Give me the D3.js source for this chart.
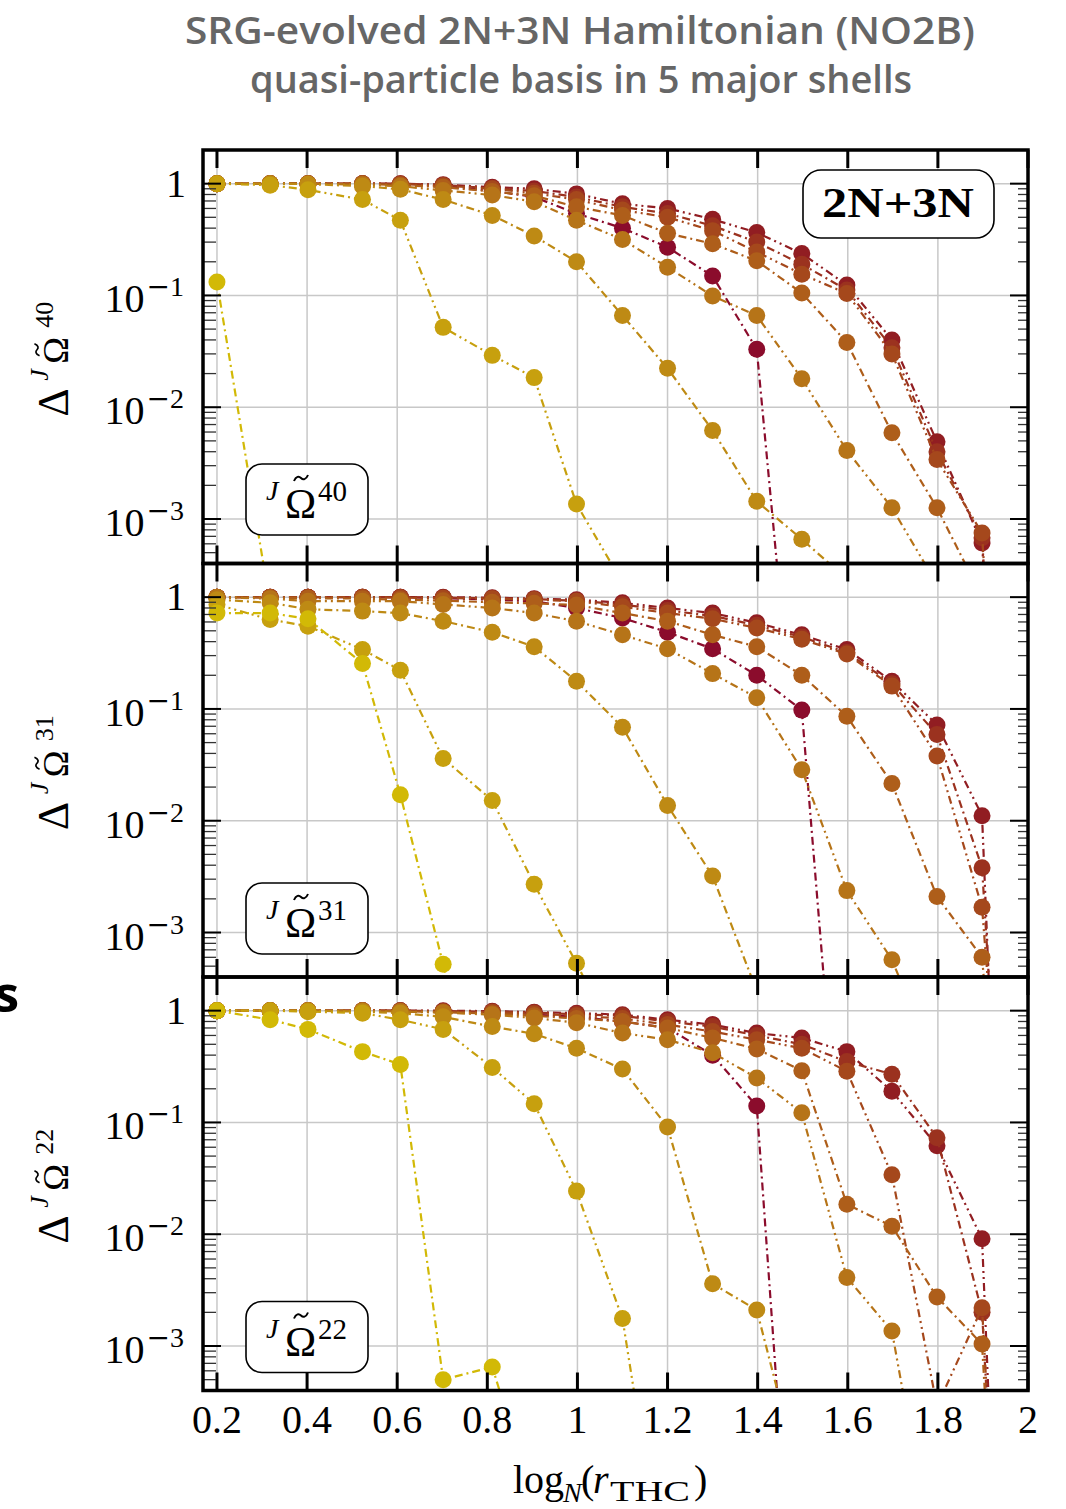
<!DOCTYPE html>
<html>
<head>
<meta charset="utf-8">
<script src="https://cdn.jsdelivr.net/npm/d3@7"></script>
<style>
  body { margin: 0; background: #fff; }
  svg { display: block; }
</style>
</head>
<body>
<script>
const width = 1066;
const height = 1509;

// log_N(r_THC) positions of the decompositions
const xValues = [0.2, 0.318, 0.402, 0.523, 0.607, 0.702, 0.811, 0.904, 0.998, 1.1,
  1.2, 1.3, 1.398, 1.498, 1.598, 1.698, 1.798, 1.898, 2.0];

const seriesColors = ["#8b0c2c", "#911d22", "#9b321f", "#a5481c", "#ae5e1a",
  "#b67418", "#be8a14", "#c7a00e", "#d2b906"];

const panelNames = ["40", "31", "22"];

// Delta of J Omega~40
const omega40 = [
  [1, 1, 1, 1, 0.99, 0.95, 0.86, 0.76, 0.54, 0.40, 0.27, 0.149, 0.033, 1.7e-6],
  [1, 1, 1, 1, 1, 0.98, 0.93, 0.90, 0.81, 0.66, 0.60, 0.48, 0.365, 0.237, 0.124, 0.040, 0.0049, 6.1e-4, 1e-10],
  [1, 1, 1, 1, 1, 0.97, 0.91, 0.86, 0.76, 0.62, 0.54, 0.42, 0.30, 0.19, 0.112, 0.034, 0.0040, 6.8e-4, 1e-10],
  [1, 1, 1, 1, 0.99, 0.96, 0.90, 0.82, 0.72, 0.58, 0.50, 0.38, 0.245, 0.155, 0.104, 0.030, 0.0034, 7.5e-4, 1e-10],
  [1, 1, 1, 1, 0.97, 0.93, 0.85, 0.78, 0.62, 0.52, 0.36, 0.29, 0.204, 0.105, 0.038, 0.0059, 0.00126, 2e-4],
  [1, 1, 1, 0.98, 0.95, 0.87, 0.79, 0.69, 0.47, 0.316, 0.179, 0.099, 0.066, 0.018, 0.0041, 0.00126, 2.6e-4],
  [1, 1, 0.99, 0.95, 0.89, 0.72, 0.52, 0.34, 0.20, 0.066, 0.0223, 0.0062, 0.00144, 0.00066, 2.9e-4],
  [1, 0.97, 0.88, 0.72, 0.47, 0.0518, 0.0291, 0.0184, 0.00136, 2.7e-4],
  [0.132, 1.7e-4]
];

// Delta of J Omega~31
const omega31 = [
  [1, 1, 1, 1, 1, 0.98, 0.95, 0.92, 0.80, 0.65, 0.486, 0.345, 0.2, 0.0976, 1.2e-6],
  [1, 1, 1, 1, 1, 1, 0.99, 0.97, 0.95, 0.89, 0.80, 0.72, 0.59, 0.46, 0.34, 0.177, 0.072, 0.0111, 1e-12],
  [1, 1, 1, 1, 1, 0.99, 0.98, 0.96, 0.93, 0.86, 0.76, 0.68, 0.56, 0.44, 0.32, 0.168, 0.059, 0.0038, 1e-9],
  [1, 1, 1, 1, 0.99, 0.98, 0.97, 0.95, 0.92, 0.82, 0.72, 0.64, 0.53, 0.42, 0.31, 0.16, 0.038, 0.00168, 1e-8],
  [1, 0.99, 0.98, 0.97, 0.95, 0.93, 0.90, 0.88, 0.85, 0.72, 0.61, 0.46, 0.36, 0.2, 0.086, 0.0215, 0.0021, 6.0e-4, 1e-8],
  [1, 0.97, 0.92, 0.92, 0.92, 0.86, 0.80, 0.72, 0.61, 0.46, 0.345, 0.207, 0.126, 0.0286, 0.00237, 5.7e-4, 6e-5],
  [0.95, 0.89, 0.78, 0.75, 0.72, 0.61, 0.486, 0.36, 0.177, 0.0686, 0.0137, 0.0032, 3e-4],
  [0.86, 0.63, 0.55, 0.34, 0.222, 0.036, 0.0152, 0.0027, 5.3e-4, 8e-5],
  [0.72, 0.72, 0.64, 0.255, 0.0171, 5.2e-4, 1e-5]
];

// Delta of J Omega~22
const omega22 = [
  [1, 1, 1, 1, 1, 0.98, 0.95, 0.92, 0.88, 0.80, 0.70, 0.40, 0.14, 3e-7],
  [1, 1, 1, 1, 1, 1, 0.99, 0.97, 0.95, 0.92, 0.83, 0.75, 0.63, 0.57, 0.43, 0.19, 0.062, 0.0091, 1e-12],
  [1, 1, 1, 1, 1, 0.99, 0.98, 0.96, 0.93, 0.90, 0.80, 0.72, 0.60, 0.50, 0.35, 0.27, 0.073, 0.0020, 1e-10],
  [1, 1, 1, 1, 1, 0.98, 0.97, 0.94, 0.90, 0.85, 0.75, 0.65, 0.55, 0.46, 0.287, 0.034, 2.9e-4, 0.0022, 1e-10],
  [1, 1, 1, 1, 0.99, 0.97, 0.94, 0.90, 0.85, 0.80, 0.70, 0.57, 0.455, 0.29, 0.0185, 0.0118, 0.00274, 0.00104, 1e-10],
  [1, 1, 1, 1, 0.98, 0.96, 0.92, 0.86, 0.78, 0.63, 0.55, 0.42, 0.25, 0.122, 0.0041, 0.00136, 8e-6],
  [1, 1, 1, 0.98, 0.95, 0.88, 0.72, 0.62, 0.46, 0.30, 0.091, 0.0036, 0.0021, 5.7e-5],
  [1, 1, 0.98, 0.95, 0.83, 0.68, 0.31, 0.147, 0.0243, 0.00176, 5e-6],
  [1, 0.83, 0.68, 0.43, 0.33, 5.0e-4, 6.5e-4, 4e-5]
];

const panels = [omega40, omega31, omega22];

const xTickValues = [0.2, 0.4, 0.6, 0.8, 1.0, 1.2, 1.4, 1.6, 1.8, 2.0];
const xTickLabels = ["0.2", "0.4", "0.6", "0.8", "1", "1.2", "1.4", "1.6", "1.8", "2"];
const yTickValues = [1, 0.1, 0.01, 0.001];
const yTickExponents = ["", "1", "2", "3"];

const serif = "'Liberation Serif', 'DejaVu Serif', serif";
const wideSerif = "'DejaVu Serif', serif";
const dashDot = "8,4,2,4";
const dashDotDot = "8,4,2,4,2,4";
const tildePath = "M-7,3 C-5,-2 -2,-2 0,0 S5,2 7,-3";

const svg = d3.select("body").append("svg")
  .attr("width", width)
  .attr("height", height);

// title
const title = svg.append("g")
  .attr("fill", "#666")
  .attr("font-family", "'Open Sans', Lato, sans-serif")
  .attr("font-weight", 600)
  .attr("font-size", 38)
  .attr("text-anchor", "middle");
title.append("text")
  .attr("x", 580).attr("y", 44)
  .attr("textLength", 790).attr("lengthAdjust", "spacingAndGlyphs")
  .text("SRG-evolved 2N+3N Hamiltonian (NO2B)");
title.append("text")
  .attr("x", 581).attr("y", 93)
  .attr("textLength", 662).attr("lengthAdjust", "spacingAndGlyphs")
  .text("quasi-particle basis in 5 major shells");

// cut-off word at the left edge of the slide
svg.append("text")
  .attr("x", 19).attr("y", 1012)
  .attr("text-anchor", "end")
  .attr("font-family", "'Open Sans', sans-serif")
  .attr("font-weight", 700)
  .attr("font-size", 50)
  .text("s");

const left = 203;
const right = 1028;
const panelTop = 150;
const panelHeight = 413.5;

const x = d3.scaleLinear().domain([0.169, 2.0]).range([left, right]);

const boxOffsets = [314, 319.5, 324.5];

const minorTicks = [];
[-4, -3, -2, -1, 0].forEach((e) => {
  for (let k = 2; k <= 9; k++) {
    const v = k * Math.pow(10, e);
    if (v >= 4e-4 && v < 2) minorTicks.push(v);
  }
});

const line = (y) => d3.line()
  .x((d) => x(d[0]))
  .y((d) => y(d[1]));

const piece = (g, px, py, size, txt, italic) => g.append("text")
  .attr("x", px).attr("y", py)
  .attr("font-family", serif)
  .attr("font-size", size)
  .attr("font-style", italic ? "italic" : null)
  .text(txt);

panels.forEach((panel, i) => {
  const top = panelTop + i * panelHeight;
  const bottom = top + panelHeight;
  const y = d3.scaleLog().domain([4e-4, 2]).range([bottom, top]);
  const g = svg.append("g");

  g.append("clipPath").attr("id", "clip" + i)
    .append("rect")
    .attr("x", left).attr("y", top)
    .attr("width", right - left).attr("height", panelHeight);

  // grid
  const grid = g.append("g").attr("stroke", "#c8c8c8").attr("stroke-width", 1.5);
  grid.selectAll("line.gx")
    .data(xTickValues.slice(0, -1))
    .enter().append("line")
    .attr("x1", (d) => x(d)).attr("x2", (d) => x(d))
    .attr("y1", top).attr("y2", bottom);
  grid.selectAll("line.gy")
    .data(yTickValues)
    .enter().append("line")
    .attr("x1", left).attr("x2", right)
    .attr("y1", (d) => y(d)).attr("y2", (d) => y(d));

  // series, darkest first so the lighter ones sit on top
  const plot = g.append("g").attr("clip-path", `url(#clip${i})`);
  panel.forEach((values, s) => {
    const pts = values.map((v, j) => [xValues[j], v]);
    const sg = plot.append("g");
    sg.append("path")
      .datum(pts)
      .attr("d", line(y))
      .attr("fill", "none")
      .attr("stroke", seriesColors[s])
      .attr("stroke-width", 2.2)
      .attr("stroke-dasharray", s % 2 === 0 ? dashDot : dashDotDot);
    sg.selectAll("circle")
      .data(pts.filter((d) => d[1] >= 2e-4))
      .enter().append("circle")
      .attr("cx", (d) => x(d[0]))
      .attr("cy", (d) => y(d[1]))
      .attr("r", 8.5)
      .attr("fill", seriesColors[s]);
  });

  // ticks
  const ticks = g.append("g");
  ticks.selectAll("line.xt")
    .data(xTickValues)
    .enter().append("line")
    .attr("x1", (d) => x(d)).attr("x2", (d) => x(d))
    .attr("y1", top).attr("y2", top + 18)
    .attr("stroke", "#000").attr("stroke-width", 3);
  ticks.selectAll("line.xb")
    .data(xTickValues)
    .enter().append("line")
    .attr("x1", (d) => x(d)).attr("x2", (d) => x(d))
    .attr("y1", bottom - 18).attr("y2", bottom)
    .attr("stroke", "#000").attr("stroke-width", 3);
  [[left, 1], [right, -1]].forEach(([x0, dir]) => {
    ticks.append("g").selectAll("line")
      .data(yTickValues)
      .enter().append("line")
      .attr("x1", x0).attr("x2", x0 + dir * 18)
      .attr("y1", (d) => y(d)).attr("y2", (d) => y(d))
      .attr("stroke", "#000").attr("stroke-width", 2);
    ticks.append("g").selectAll("line")
      .data(minorTicks)
      .enter().append("line")
      .attr("x1", x0).attr("x2", x0 + dir * (dir > 0 ? 13 : 10))
      .attr("y1", (d) => y(d)).attr("y2", (d) => y(d))
      .attr("stroke", "#333").attr("stroke-width", 1.3);
  });

  // frame
  g.append("rect")
    .attr("x", left).attr("y", top)
    .attr("width", right - left).attr("height", panelHeight)
    .attr("fill", "none").attr("stroke", "#000").attr("stroke-width", 3.5);

  // y tick labels
  const yl = g.append("g").attr("font-family", serif).attr("text-anchor", "end");
  yTickValues.forEach((v, k) => {
    if (k === 0) {
      yl.append("text")
        .attr("x", 186).attr("y", y(v) + 13)
        .attr("font-size", 40)
        .text("1");
    } else {
      const t = yl.append("text")
        .attr("x", 184).attr("y", y(v) + 17)
        .attr("font-size", 40);
      t.append("tspan").text("10");
      t.append("tspan").attr("dx", 2).attr("dy", -16).attr("font-size", 28)
        .attr("font-family", wideSerif).text("\u2212");
      t.append("tspan").attr("font-size", 28).text(yTickExponents[k]);
    }
  });

  // y axis label, rotated; local x runs upwards from the bottom of the Delta
  const lab = g.append("g")
    .attr("transform", `translate(68, ${(top + bottom) / 2 + 60}) rotate(-90)`);
  piece(lab, 0, 0, 44, "\u0394");
  piece(lab, 36, -20, 26, "J", true);
  piece(lab, 53, 0, 36, "\u03A9");
  lab.append("path")
    .attr("transform", "translate(67, -31) scale(0.85)")
    .attr("d", tildePath)
    .attr("fill", "none").attr("stroke", "#000").attr("stroke-width", 2);
  piece(lab, 89, -15, 26, panelNames[i]);

  // legend box
  const by = top + boxOffsets[i];
  g.append("rect")
    .attr("x", 246).attr("y", by)
    .attr("width", 122).attr("height", 71)
    .attr("rx", 16)
    .attr("fill", "#fff").attr("stroke", "#000").attr("stroke-width", 1.6);
  piece(g, 266, by + 36, 28, "J", true);
  piece(g, 285, by + 54, 42, "\u03A9");
  g.append("path")
    .attr("transform", `translate(301, ${by + 14})`)
    .attr("d", tildePath)
    .attr("fill", "none").attr("stroke", "#000").attr("stroke-width", 2);
  piece(g, 318, by + 37, 29, panelNames[i]);
});

// 2N+3N box
svg.append("rect")
  .attr("x", 803).attr("y", 170)
  .attr("width", 191).attr("height", 68)
  .attr("rx", 18)
  .attr("fill", "#fff").attr("stroke", "#000").attr("stroke-width", 1.6);
svg.append("text")
  .attr("x", 898).attr("y", 217)
  .attr("text-anchor", "middle")
  .attr("font-family", serif)
  .attr("font-weight", 700)
  .attr("font-size", 42)
  .attr("textLength", 152).attr("lengthAdjust", "spacingAndGlyphs")
  .text("2N+3N");

// x tick labels
svg.append("g")
  .attr("font-family", serif)
  .attr("font-size", 40)
  .attr("text-anchor", "middle")
  .selectAll("text")
  .data(xTickValues)
  .enter().append("text")
  .attr("x", (d) => x(d))
  .attr("y", 1433)
  .text((d, k) => xTickLabels[k]);

// x axis label
const xl = svg.append("g");
piece(xl, 513, 1493, 40, "log");
piece(xl, 563, 1502, 28, "N", true);
piece(xl, 581, 1493, 40, "(");
piece(xl, 593, 1493, 40, "r", true);
piece(xl, 610, 1501, 29, "THC")
  .attr("textLength", 80).attr("lengthAdjust", "spacingAndGlyphs");
piece(xl, 694, 1493, 40, ")");
</script>
</body>
</html>
